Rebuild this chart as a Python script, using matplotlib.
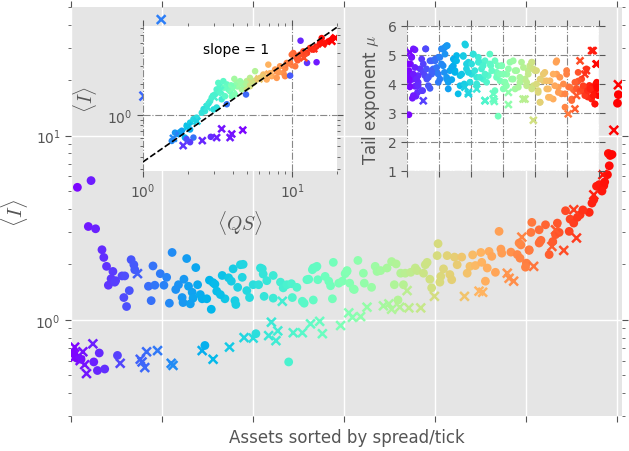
import numpy as np
import matplotlib
matplotlib.use("Agg")
import matplotlib.pyplot as plt
from matplotlib.ticker import NullFormatter

plt.rcParams['font.family'] = ['DejaVu Sans']
plt.rcParams['mathtext.fontset'] = 'cm'

# main panel: <I> vs asset rank (upper branch = circles, lower branch = crosses)
circ_x = [7, 22, 19, 27, 34, 36, 39, 46, 44, 41, 48, 49, 56, 59, 66, 69, 70, 64, 58, 61,
          90, 85, 92, 88, 98, 105, 102, 108, 111, 127, 137, 124, 118, 115, 122, 123, 129, 133, 134, 131,
          139, 142, 144, 149, 152, 154, 156, 158, 166, 169, 160, 164, 173, 176, 178, 183, 186, 189, 188, 180,
          181, 193, 196, 200, 206, 208, 210, 211, 215, 212, 222, 222, 230, 233, 237, 242, 243, 248, 254, 256,
          259, 261, 266, 266, 270, 271, 265, 269, 279, 283, 285, 288, 287, 294, 298, 301, 303, 303, 306, 310,
          311, 315, 321, 322, 330, 334, 336, 340, 347, 352, 355, 357, 359, 362, 365, 367, 373, 378, 380, 387,
          389, 391, 394, 396, 402, 403, 406, 405, 409, 413, 416, 418, 421, 424, 429, 435, 438, 441, 444, 450,
          451, 455, 457, 459, 462, 466, 470, 472, 473, 483, 490, 493, 494, 500, 503, 505, 514, 516, 525, 529,
          532, 536, 547, 506, 521, 514, 534, 543, 548, 559, 569, 572, 574, 577, 580, 585, 589, 591, 592, 590,
          594, 515, 492, 503, 499, 552, 556, 562, 583, 586, 600, 601,
          3, 6, 11, 31, 25, 29, 37, 51, 147, 203, 239]
circ_y = [5.24, 5.7, 3.21, 3.12, 2.40, 2.18, 1.95, 1.83, 1.67, 1.54, 1.60, 1.63, 1.73, 1.73, 2.12, 1.99, 1.87, 1.44, 1.32, 1.18,
          1.96, 1.52, 1.54, 1.27, 1.78, 1.70, 1.54, 1.23, 2.32, 2.15, 1.92, 1.66, 1.55, 1.46, 1.32, 1.24, 1.52, 1.41, 1.31, 1.22,
          1.55, 1.37, 1.30, 1.30, 1.64, 1.14, 1.59, 1.56, 1.74, 1.30, 1.43, 1.37, 1.69, 1.62, 1.89, 1.50, 1.99, 2.00, 1.70, 1.27,
          1.21, 1.44, 1.32, 1.55, 1.55, 1.91, 1.89, 1.77, 1.63, 1.34, 1.74, 1.31, 1.60, 1.49, 1.55, 1.57, 1.32, 1.50, 1.26, 1.23,
          1.65, 1.66, 1.28, 1.91, 1.95, 1.65, 1.87, 1.93, 1.72, 1.62, 1.53, 2.05, 1.30, 1.58, 1.62, 1.78, 1.85, 1.83, 1.58, 1.47,
          1.46, 2.10, 1.79, 1.58, 1.50, 1.95, 1.83, 1.85, 1.91, 2.07, 1.55, 2.01, 1.28, 1.79, 1.55, 1.79, 1.81, 1.91, 1.85, 1.79,
          1.99, 2.05, 1.66, 1.49, 2.23, 2.59, 1.72, 1.60, 1.89, 2.23, 1.76, 1.65, 2.19, 1.99, 2.19, 1.79, 1.95, 2.25, 1.97, 2.32,
          2.05, 1.62, 1.91, 2.35, 2.21, 1.81, 3.02, 2.42, 2.30, 2.33, 2.26, 2.16, 2.55, 2.03, 2.38, 2.98, 2.61, 2.70, 2.26, 2.66,
          2.90, 2.98, 3.02, 3.38, 3.28, 3.08, 3.35, 3.91, 3.52, 3.72, 3.83, 4.30, 4.49, 5.31, 5.42, 5.35, 6.14, 6.86, 7.8, 8.0,
          7.9, 2.66, 2.61, 2.40, 1.93, 3.35, 3.60, 3.95, 5.0, 5.6, 15.0, 16.7,
          0.66, 0.62, 0.61, 0.66, 0.59, 0.53, 0.54, 0.64, 0.725, 0.84, 0.59]

cross_x = [4, 13, 24, 3, 10, 15, 17, 54, 83, 95, 76, 78, 81, 110, 112, 144, 156, 73, 174, 190,
           200, 217, 220, 227, 225, 244, 254, 263, 273, 276, 296, 305, 309, 318, 325, 343, 349, 352, 361, 371,
           384, 369, 399, 432, 448, 452, 479, 481, 486, 508, 541, 555, 495, 232, 528, 532, 552, 574, 584, 596,
           601, 99, 80]
cross_y = [0.71, 0.67, 0.74, 0.62, 0.60, 0.57, 0.51, 0.58, 0.67, 0.68, 0.61, 0.59, 0.55, 0.58, 0.565, 0.68, 0.61, 1.78, 0.71, 0.80,
           0.795, 0.82, 0.97, 0.87, 0.77, 0.85, 0.85, 0.95, 0.98, 0.84, 0.93, 1.09, 1.03, 1.04, 1.17, 1.19, 1.22, 1.14, 1.17, 1.16,
           1.16, 1.44, 1.34, 1.34, 1.43, 1.41, 1.79, 1.68, 1.62, 1.95, 2.38, 2.78, 2.81, 1.26, 2.50, 3.08, 3.96, 4.77, 6.14, 10.7,
           18.9, 42.7, 16.4]

# inset 1: <I> vs <QS>, colour = asset rank
qs_o = [1.56, 1.64, 1.73, 1.82, 1.91, 2.07, 2.18, 1.96, 2.07, 2.18, 2.29, 2.48, 2.61, 2.68, 2.82, 2.89, 3.04, 3.12, 3.29, 3.20,
        3.46, 3.65, 3.74, 2.97, 3.12, 3.37, 3.55, 3.84, 3.94, 4.14, 4.04, 4.25, 4.10, 4.48, 4.60, 4.71, 4.96, 5.65, 5.22, 4.96,
        5.22, 5.50, 5.80, 6.10, 6.42, 6.93, 6.76, 7.30, 7.69, 7.89, 8.30, 8.74, 9.21, 8.97, 9.70, 10.2, 10.7, 11.3, 11.9, 12.6,
        13.2, 13.9, 15.4, 15.8, 17.5, 18.8, 9.95, 10.5, 11.4, 14.6, 12.6, 9.7, 4.91, 3.65, 2.85, 2.07, 1.96,
        2.55, 2.75, 2.95, 3.30, 3.50, 3.90, 4.30, 4.80, 5.40, 6.30, 7.10, 8.10, 9.00, 10.9, 12.2, 14.5, 16.5]
i_o = [0.566, 0.68, 0.66, 0.71, 0.61, 0.73, 0.61, 0.79, 0.85, 0.92, 0.95, 1.06, 1.10, 1.23, 1.37, 1.48, 1.59, 1.78, 1.91, 2.06,
       2.14, 1.99, 1.78, 1.14, 1.19, 1.43, 1.53, 1.71, 1.53, 1.59, 1.91, 2.06, 2.25, 2.14, 1.78, 1.99, 2.14, 2.67, 2.30, 1.85,
       1.91, 2.06, 2.22, 2.30, 2.48, 3.09, 2.22, 2.39, 2.77, 2.30, 2.98, 2.57, 3.21, 2.39, 3.21, 4.00, 3.59, 3.86, 4.15, 4.00,
       4.48, 4.31, 5.00, 5.58, 5.18, 5.58, 3.86, 2.98, 5.26, 3.26, 3.21, 2.42, 1.59, 1.28, 0.62, 0.55, 0.59,
       1.15, 1.30, 1.55, 1.65, 1.85, 1.95, 1.90, 2.00, 2.05, 2.35, 2.55, 2.60, 2.85, 3.40, 3.90, 4.60, 4.95]
id_o = [110, 120, 100, 130, 150, 140, 90, 170, 180, 190, 200, 210, 215, 220, 230, 235, 240, 245, 250, 255,
        260, 265, 270, 200, 205, 225, 260, 280, 290, 300, 310, 320, 340, 330, 350, 360, 365, 360, 370, 390,
        400, 410, 420, 430, 440, 450, 455, 460, 470, 475, 480, 485, 495, 490, 510, 520, 525, 535, 545, 555,
        560, 570, 580, 590, 595, 600, 515, 505, 30, 20, 40, 70, 80, 90, 35, 45, 60,
        205, 222, 238, 255, 275, 295, 325, 355, 385, 425, 448, 478, 492, 528, 548, 575, 588]

qs_x = [3.37, 3.94, 3.84, 4.67, 3.12, 2.50, 1.86, 1.60, 1.80, 2.00, 2.30, 2.70, 3.00, 3.30, 4.00, 4.50, 5.30, 6.00, 7.00, 8.00,
        9.50, 11.0, 12.0, 14.0, 16.0, 18.5, 19.5]
i_x = [0.74, 0.66, 0.61, 0.72, 0.61, 0.57, 0.51, 0.60, 0.67, 0.78, 0.88, 1.20, 1.50, 1.75, 1.80, 2.00, 2.10, 2.25, 2.50, 2.70,
       3.10, 3.70, 3.60, 4.40, 4.90, 5.20, 5.60]
id_x = [15, 10, 20, 5, 25, 30, 40, 110, 130, 165, 185, 215, 235, 250, 300, 335, 395, 425, 450, 475,
        500, 530, 540, 565, 585, 598, 600]

# inset 2: tail exponent mu vs asset rank
mu_ox = [6, 14, 25, 11, 9, 9, 20, 25, 35, 17, 28, 46, 59, 41, 51, 35, 62, 49, 72, 72,
         88, 98, 82, 93, 113, 77, 108, 119, 126, 103, 98, 124, 129, 140, 145, 134, 150, 150, 155, 160,
         183, 176, 166, 192, 179, 186, 202, 207, 223, 218, 228, 233, 238, 244, 254, 259, 262, 275, 280, 285,
         291, 296, 301, 306, 312, 322, 332, 332, 338, 343, 353, 358, 369, 374, 379, 384, 390, 395, 400, 405,
         410, 416, 426, 431, 437, 442, 447, 457, 466, 468, 473, 483, 494, 499, 515, 546, 561, 567, 577, 588,
         593, 593, 505, 520, 530, 540, 550, 555, 560, 570, 575, 580, 585, 590, 597, 535, 565,
         20, 15, 4, 6, 6, 9, 20, 25, 30, 35, 33, 20, 46, 51, 58, 61, 56, 67, 67, 77,
         77, 88, 93, 98, 103, 108, 114, 119, 124, 117, 124, 129, 140, 145, 150, 155, 166, 176, 181, 171,
         186, 192, 197, 207, 202, 212, 218, 223, 228, 238, 244, 249, 259, 265, 275, 280, 285, 290, 296, 301,
         306, 317, 311, 327, 338, 348, 353, 364, 374, 379, 390, 395, 390, 405, 416, 410, 416, 426, 436, 442,
         447, 457, 462, 468, 473, 478, 489, 494, 499, 509, 515, 525, 535, 546, 551, 556, 564, 572, 582, 587, 593]
mu_oy = [2.94, 4.92, 5.18, 4.69, 4.34, 4.11, 4.17, 3.92, 4.06, 3.51, 3.58, 4.86, 5.21, 4.52, 4.40, 4.29, 4.17, 3.77, 3.85, 4.80,
         4.80, 4.92, 4.52, 4.40, 4.63, 4.34, 5.21, 5.27, 5.32, 4.17, 4.06, 4.17, 3.83, 4.15, 4.63, 4.46, 4.46, 4.80, 4.98, 3.66,
         5.34, 4.95, 4.29, 4.75, 4.00, 4.52, 4.34, 5.03, 4.92, 4.23, 4.75, 4.52, 4.17, 4.80, 4.29, 5.03, 4.63, 4.80, 4.40, 2.89,
         4.11, 4.63, 3.83, 4.06, 4.34, 4.75, 4.80, 4.17, 3.83, 4.46, 4.06, 4.75, 4.17, 3.94, 4.46, 4.63, 4.75, 3.94, 4.46, 4.00,
         3.71, 3.37, 4.11, 4.40, 3.83, 3.54, 4.11, 3.48, 4.75, 4.34, 3.89, 3.66, 3.20, 4.46, 3.48, 4.17, 4.52, 3.77, 3.48, 3.31,
         3.83, 4.06, 3.90, 3.80, 3.85, 3.75, 3.90, 3.70, 3.85, 3.95, 3.80, 3.90, 3.65, 4.00, 3.60, 4.10, 3.55,
         5.21, 4.92, 4.69, 4.46, 4.17, 3.90, 4.34, 4.57, 4.17, 3.94, 3.71, 3.60, 3.77, 4.69, 5.21, 4.52, 4.29, 4.23, 3.94, 4.46,
         4.80, 4.86, 4.57, 4.34, 4.92, 4.69, 5.21, 5.03, 5.32, 4.40, 4.23, 4.06, 4.57, 4.86, 4.40, 4.80, 3.94, 4.98, 5.38, 4.34,
         4.69, 4.40, 4.06, 5.03, 4.69, 4.46, 4.00, 4.75, 4.23, 4.63, 4.34, 4.06, 4.69, 4.46, 3.77, 4.23, 4.63, 4.34, 4.63, 4.34,
         4.06, 4.52, 3.94, 4.17, 4.46, 3.89, 4.23, 4.57, 4.06, 4.34, 4.75, 4.52, 3.83, 4.46, 4.17, 3.77, 3.37, 4.34, 4.11, 3.83,
         3.54, 4.34, 3.94, 4.80, 3.71, 4.23, 4.00, 3.66, 4.34, 3.89, 3.43, 4.06, 4.40, 3.77, 3.94, 3.60, 3.77, 3.83, 3.60, 3.31, 3.89]
mu_xx = [9, 51, 192, 218, 244, 270, 270, 317, 317, 363, 395, 504, 525, 541, 556, 582, 591,
         181, 192, 244, 273, 369, 530, 561, 577, 593]
mu_xy = [5.09, 3.42, 3.66, 3.83, 3.42, 3.48, 3.66, 3.71, 3.29, 3.48, 2.75, 2.97, 3.14, 4.80, 4.34, 5.15, 4.69,
         3.89, 3.71, 3.43, 3.40, 3.48, 3.60, 4.46, 5.15, 4.69]

n_assets = 600
cmap = plt.get_cmap('rainbow')
norm = plt.Normalize(0, n_assets)
gray = '#555555'


def style_axes(ax, face):
    ax.set_facecolor(face)
    for s in ax.spines.values():
        s.set_visible(False)
    ax.tick_params(which='both', direction='out', colors=gray, top=True, right=True,
                   labelsize=10)
    ax.tick_params(which='major', length=4)
    ax.tick_params(which='minor', length=2)


fig = plt.figure(figsize=(6.29, 4.52), dpi=100)

ax = fig.add_axes([0.1129, 0.0774, 0.876, 0.905])
style_axes(ax, '#E5E5E5')
ax.set_axisbelow(True)
ax.grid(True, which='major', color='white', lw=1)
ax.scatter(circ_x, circ_y, c=circ_x, cmap=cmap, norm=norm, s=40, marker='o', linewidths=0)
ax.scatter(cross_x, cross_y, c=cross_x, cmap=cmap, norm=norm, s=40, marker='x', linewidths=1.8)
ax.set_yscale('log')
ax.set_xlim(0, 605)
ax.set_ylim(0.3, 50)
ax.set_xticks(np.arange(0, 601, 100))
ax.set_xticklabels([])
ax.yaxis.set_minor_formatter(NullFormatter())
ax.set_xlabel('Assets sorted by spread/tick', fontsize=12, color=gray, labelpad=1)
ax.set_ylabel(r'$\langle I \rangle$', fontsize=15, color=gray, labelpad=4)

# inset 1
ax1 = fig.add_axes([0.2273, 0.6195, 0.3084, 0.3208])
style_axes(ax1, 'white')
ax1.set_axisbelow(True)
ax1.grid(True, which='major', color='#888888', ls='-.', lw=0.8)
ax1.scatter(qs_o, i_o, c=id_o, cmap=cmap, norm=norm, s=22, marker='o', linewidths=0)
ax1.scatter(qs_x, i_x, c=id_x, cmap=cmap, norm=norm, s=24, marker='x', linewidths=1.8)
ax1.set_xscale('log')
ax1.set_yscale('log')
ax1.set_xlim(1, 20)
ax1.set_ylim(0.29, 7.3)
line_x = np.array([1, 20])
ax1.plot(line_x, 0.355 * line_x, 'k--', lw=1.2)
ax1.text(0.48, 0.84, 'slope = 1', transform=ax1.transAxes, ha='center', va='center', fontsize=10)
ax1.xaxis.set_minor_formatter(NullFormatter())
ax1.yaxis.set_minor_formatter(NullFormatter())
ax1.set_xlabel(r'$\langle QS \rangle$', fontsize=14, color=gray, labelpad=6)
ax1.set_ylabel(r'$\langle I \rangle$', fontsize=14, color=gray, labelpad=6)

# inset 2
ax2 = fig.add_axes([0.647, 0.6195, 0.3052, 0.3208])
style_axes(ax2, 'white')
ax2.set_axisbelow(True)
ax2.grid(True, which='major', color='#888888', ls='-.', lw=0.8)
ax2.scatter(mu_ox, mu_oy, c=mu_ox, cmap=cmap, norm=norm, s=24, marker='o', linewidths=0)
ax2.scatter(mu_xx, mu_xy, c=mu_xx, cmap=cmap, norm=norm, s=24, marker='x', linewidths=1.8)
ax2.set_xlim(0, 600)
ax2.set_ylim(1, 6)
ax2.set_xticks(np.arange(0, 601, 100))
ax2.set_xticklabels([])
ax2.set_yticks(np.arange(1, 7))
ax2.set_ylabel(r'Tail exponent $\mu$', fontsize=12, color=gray)

fig.savefig('out.png', dpi=100)
